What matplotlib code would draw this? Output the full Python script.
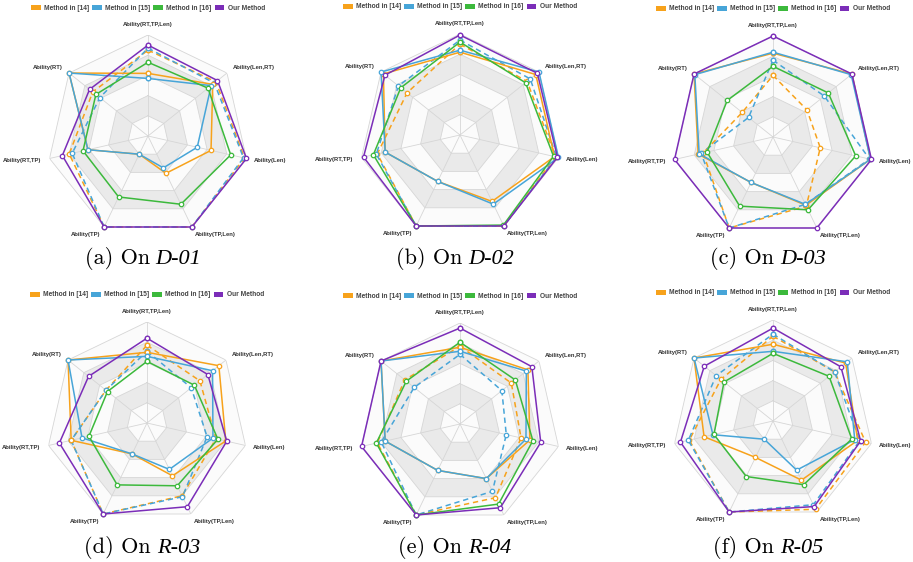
import numpy as np
import matplotlib.pyplot as plt
from matplotlib.patches import Patch

# axes of the radar, clockwise from the top
axis_names = ['Ability(RT,TP,Len)', 'Ability(Len,RT)', 'Ability(Len)', 'Ability(TP,Len)',
              'Ability(TP)', 'Ability(RT,TP)', 'Ability(RT)']
methods = ['Method in [14]', 'Method in [15]', 'Method in [16]', 'Our Method']
colors = ['#f7a21b', '#47a5d8', '#3cb93c', '#7b2db8']
datasets = ['D-01', 'D-02', 'D-03', 'R-03', 'R-04', 'R-05']
tags = ['a', 'b', 'c', 'd', 'e', 'f']

# ---- values (0-100) ----
# D-01
m14_d01 = [62, 82, 64, 41, 20, 61, 100]
m14_d01_dash = [85, 86, 98, 100, 100, 80, 70]
m15_d01 = [57, 80, 50, 35, 20, 61, 100]
m15_d01_dash = [87, 84, 97, 100, 100, 77, 61]
m16_d01 = [73, 76, 84, 75, 67, 66, 66]
our_d01 = [90, 88, 100, 100, 100, 87, 74]
# D-02
m14_d02 = [82, 96, 96, 73, 51, 76, 97]
m14_d02_dash = [90, 85, 97, 100, 100, 84, 67]
m15_d02 = [84, 100, 100, 76, 51, 76, 100]
m15_d02_dash = [94, 89, 98, 100, 100, 85, 78]
m16_d02 = [92, 83, 95, 99, 100, 88, 75]
our_d02 = [99, 98, 99, 100, 100, 98, 95]
# D-03
m14_d03 = [83, 100, 99, 75, 50, 76, 100]
m14_d03_dash = [61, 43, 48, 76, 100, 71, 39]
m15_d03 = [84, 99, 99, 74, 50, 75, 99]
m15_d03_dash = [76, 65, 98, 74, 100, 73, 31]
m16_d03 = [70, 70, 84, 80, 76, 67, 58]
our_d03 = [100, 100, 100, 100, 100, 100, 100]
# R-03
m14_r03 = [70, 91, 80, 58, 34, 77, 100]
m14_r03_dash = [77, 67, 70, 80, 100, 77, 52]
m15_r03 = [66, 83, 67, 51, 34, 66, 100]
m15_r03_dash = [71, 56, 61, 81, 100, 77, 52]
m16_r03 = [61, 60, 72, 69, 68, 59, 50]
our_r03 = [84, 77, 81, 92, 100, 89, 74]
# R-04
m14_r04 = [76, 86, 71, 60, 51, 76, 100]
m14_r04_dash = [77, 65, 62, 81, 100, 84, 70]
m15_r04 = [72, 84, 67, 60, 51, 76, 100]
m15_r04_dash = [69, 53, 47, 74, 100, 80, 58]
m16_r04 = [81, 70, 74, 88, 100, 85, 68]
our_r04 = [95, 91, 82, 92, 100, 100, 100]
# R-05
m14_r05 = [76, 92, 86, 65, 40, 70, 100]
m14_r05_dash = [84, 78, 94, 97, 100, 85, 66]
m15_r05 = [69, 94, 83, 54, 20, 61, 100]
m15_r05_dash = [86, 78, 88, 92, 100, 86, 72]
m16_r05 = [67, 71, 80, 70, 61, 60, 62]
our_r05 = [92, 86, 89, 94, 100, 94, 87]

solid_sets = [
    [m14_d01, m15_d01, m16_d01, our_d01],
    [m14_d02, m15_d02, m16_d02, our_d02],
    [m14_d03, m15_d03, m16_d03, our_d03],
    [m14_r03, m15_r03, m16_r03, our_r03],
    [m14_r04, m15_r04, m16_r04, our_r04],
    [m14_r05, m15_r05, m16_r05, our_r05],
]
dash_sets = [
    [m14_d01_dash, m15_d01_dash],
    [m14_d02_dash, m15_d02_dash],
    [m14_d03_dash, m15_d03_dash],
    [m14_r03_dash, m15_r03_dash],
    [m14_r04_dash, m15_r04_dash],
    [m14_r05_dash, m15_r05_dash],
]

W, H = 913, 562
fig = plt.figure(figsize=(W / 100, H / 100), dpi=100)

centers = [(148, 136), (460, 135), (773, 137), (147, 423), (460, 424), (773, 421)]
R = 101
n = len(axis_names)
theta = np.arange(n) * 2 * np.pi / n
th = np.append(theta, theta[0])


def closed(v):
    return list(v) + [v[0]]


captions = []
for i in range(6):
    cx, cy = centers[i]
    ax = fig.add_axes([(cx - R) / W, (H - cy - R) / H, 2 * R / W, 2 * R / H], projection='polar')
    ax.set_theta_zero_location('N')
    ax.set_theta_direction(-1)
    ax.set_ylim(0, 100)
    ax.axis('off')

    # polygon grid with alternating bands
    band_cols = ['#fbfbfb', '#eaeaea', '#fbfbfb', '#eaeaea', '#fbfbfb']
    for lvl, col in zip([100, 80, 60, 40, 20], band_cols):
        ax.fill(th, [lvl] * len(th), color=col, lw=0, zorder=0)
        ax.plot(th, [lvl] * len(th), color='#d6d6d6', lw=0.6, zorder=0.5)
    for t in theta:
        ax.plot([t, t], [0, 100], color='#d6d6d6', lw=0.6, zorder=0.5)

    # dashed series
    for j, vals in enumerate(dash_sets[i]):
        ax.plot(th, closed(vals), color=colors[j], lw=1.1, ls=(0, (3.5, 2.5)),
                marker='o', ms=3.2, mfc='white', mew=0.9, clip_on=False, zorder=2)
    # solid series
    for j, vals in enumerate(solid_sets[i]):
        ax.plot(th, closed(vals), color=colors[j], lw=1.1,
                marker='o', ms=3.2, mfc='white', mew=0.9, clip_on=False, zorder=3 + j)

    # axis names
    for k in range(n):
        c = np.sin(theta[k])
        if k == 0:
            ha, rr = 'center', 110
        elif c > 0:
            ha, rr = 'left', 108
        else:
            ha, rr = 'right', 108
        ax.text(theta[k], rr, axis_names[k], ha=ha, va='center', fontsize=4.2,
                fontweight='bold', family='Liberation Sans', color='#333333')

    handles = [Patch(facecolor=colors[j], edgecolor='none', label=methods[j]) for j in range(4)]
    ax.legend(handles=handles, loc='center', bbox_to_anchor=(0.5, 0.5 + 128 / (2 * R)),
              bbox_transform=ax.transAxes, ncol=4, frameon=False,
              prop={'family': 'Liberation Sans', 'weight': 'bold', 'size': 4.8},
              handlelength=1.45, handleheight=0.75, handletextpad=0.5,
              columnspacing=0.45, borderaxespad=0, labelcolor='#444444')

    # caption: roman part + italic dataset name
    base = 264 if i < 3 else 553
    y = (H - base) / H
    t1 = fig.text(0, y, '(%s) On' % tags[i], ha='left', va='baseline',
                  fontsize=16, family='cmr10', color='black')
    t2 = fig.text(0, y, datasets[i], ha='left', va='baseline', fontsize=16,
                  family='Liberation Serif', style='italic', color='black')
    captions.append((cx - 5, t1, t2))

# centre each caption under its chart
r = fig.canvas.get_renderer()
gap = 6
for xc, t1, t2 in captions:
    w1 = t1.get_window_extent(r).width
    w2 = t2.get_window_extent(r).width
    x0 = xc - (w1 + gap + w2) / 2
    t1.set_x(x0 / W)
    t2.set_x((x0 + w1 + gap) / W)

fig.savefig('out.png', dpi=100)
